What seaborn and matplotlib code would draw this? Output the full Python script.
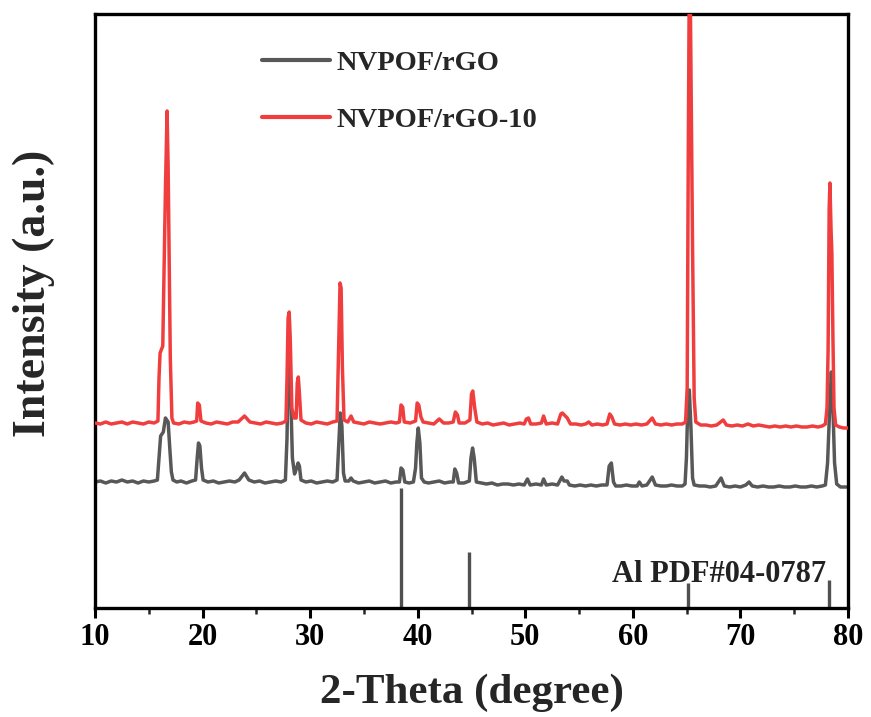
import matplotlib
matplotlib.use("Agg")
import matplotlib.pyplot as plt
import seaborn as sns
import pandas as pd

# ---------------- data ----------------
theta_rgo = [10.0, 10.5, 11.0, 11.5, 12.0, 12.5, 13.0, 13.5, 14.0, 14.5, 15.0, 15.5,
             15.8, 15.95, 16.1, 16.35, 16.55, 16.8, 16.95, 17.1, 17.25,
             17.6, 18.0, 18.5, 19.0,
             19.35, 19.5, 19.62, 19.75, 19.9, 20.05,
             20.5, 21.0, 21.5, 22.0, 22.5, 23.0, 23.4, 23.9, 24.3, 24.8, 25.3, 25.8, 26.3, 26.8, 27.3,
             27.7, 27.85, 27.95, 28.05, 28.2, 28.35, 28.55, 28.75, 28.88, 29.0, 29.15,
             29.6, 30.1, 30.6, 31.1, 31.6, 32.1,
             32.5, 32.65, 32.8, 32.95, 33.1, 33.25,
             33.6, 33.8, 34.0, 34.5, 35.0, 35.5, 36.0, 36.5, 37.0, 37.5, 38.0,
             38.3, 38.45, 38.62, 38.8,
             39.2, 39.6, 39.8, 39.92, 40.05, 40.2, 40.35, 40.6,
             41.0, 41.5, 42.0, 42.5, 43.0,
             43.3, 43.45, 43.62, 43.8,
             44.3, 44.8, 44.95, 45.1, 45.25, 45.45,
             45.9, 46.4, 46.9, 47.4, 47.9, 48.4, 48.9, 49.4, 49.9, 50.2, 50.45, 51.0, 51.5, 51.7, 51.95,
             52.5, 53.0, 53.4, 53.6, 53.9, 54.1, 54.6, 55.1, 55.6, 56.1, 56.6, 57.1,
             57.6, 57.8, 58.0, 58.2, 58.4,
             58.9, 59.4, 59.9, 60.4, 60.6, 60.85, 61.3, 61.8, 62.1, 62.6, 63.1, 63.6, 64.1, 64.6,
             64.85, 64.98, 65.1, 65.25, 65.4, 65.55, 65.7,
             66.2, 66.7, 67.2, 67.7, 68.2, 68.5, 69.0, 69.5, 70.0, 70.5, 70.8, 71.1, 71.6, 72.1, 72.6,
             73.1, 73.6, 74.1, 74.6, 75.1, 75.6, 76.1, 76.6, 77.1, 77.6,
             77.9, 78.1, 78.3, 78.45, 78.6, 78.75, 78.95,
             79.3, 79.7, 80.0]
intensity_rgo = [126, 127, 125, 127, 126, 128, 126, 127, 125, 127, 126, 127,
                 128, 150, 172, 176, 190, 186, 160, 136, 128,
                 126, 127, 125, 127,
                 128, 150, 165, 162, 140, 128,
                 126, 127, 125, 126, 127, 126, 128, 135, 128, 126, 127, 125, 126, 127, 126,
                 128, 170, 240, 256, 210, 150, 134, 140, 145, 142, 128,
                 126, 127, 125, 126, 127, 126,
                 128, 162, 195, 182, 135, 127,
                 127, 130, 127, 125, 126, 127, 125, 126, 127, 125, 126,
                 126, 140, 138, 126,
                 125, 126, 140, 165, 180, 165, 130, 126,
                 125, 126, 127, 125, 126,
                 126, 139, 135, 125,
                 125, 127, 150, 160, 150, 126,
                 125, 124, 125, 123, 124, 124, 123, 124, 123, 129, 123, 124, 123, 129, 123,
                 124, 123, 131, 127, 127, 123, 122, 123, 122, 123, 122, 123,
                 123, 142, 145, 126, 122,
                 122, 123, 122, 122, 126, 122, 123, 131, 123, 122, 122, 123, 122, 122,
                 124, 150, 200, 218, 180, 130, 123,
                 122, 122, 121, 122, 130, 122, 121, 122, 121, 123, 126, 122, 121, 122, 121,
                 121, 122, 121, 121, 122, 121, 121, 122, 121, 122,
                 123, 145, 200, 236, 200, 145, 124,
                 121, 121, 121]

theta_rgo10 = [10.0, 10.5, 11.0, 11.5, 12.0, 12.5, 13.0, 13.5, 14.0, 14.5, 15.0, 15.5,
               15.85, 15.95, 16.05, 16.3, 16.55, 16.7, 16.8, 16.9, 17.0, 17.15, 17.3,
               17.8, 18.3, 18.8, 19.2,
               19.45, 19.55, 19.7, 19.85,
               20.3, 20.8, 21.3, 21.8, 22.3, 22.8, 23.3, 23.9, 24.4, 24.9, 25.4, 25.9, 26.4, 26.9, 27.4,
               27.75, 27.85, 27.95, 28.05, 28.15, 28.3, 28.5, 28.7, 28.8, 28.9, 29.0, 29.15,
               29.6, 30.1, 30.6, 31.1, 31.6, 32.1,
               32.5, 32.65, 32.78, 32.88, 33.0, 33.15,
               33.5, 33.8, 34.05, 34.5, 35.0, 35.5, 36.0, 36.5, 37.0, 37.5, 38.0,
               38.3, 38.45, 38.6, 38.75,
               39.3, 39.8, 39.95, 40.1, 40.3, 40.5,
               41.0, 41.5, 42.0, 42.4, 42.9,
               43.3, 43.5, 43.7, 43.85,
               44.4, 44.85, 45.0, 45.12, 45.3, 45.5,
               46.0, 46.5, 47.0, 47.5, 48.0, 48.5, 49.0, 49.5, 49.9,
               50.1, 50.3, 50.5, 51.0, 51.5, 51.7, 51.95, 52.5, 53.0, 53.3, 53.45, 53.9, 54.2, 54.7,
               55.2, 55.6, 55.9, 56.2, 56.7, 57.2, 57.6,
               57.85, 58.05, 58.3, 58.8, 59.3, 59.8, 60.3, 60.8, 61.3, 61.8, 62.1, 62.6, 63.1, 63.6,
               64.1, 64.6,
               64.9, 65.05, 65.15, 65.25, 65.35, 65.45, 65.55, 65.7, 65.85,
               66.3, 66.8, 67.3, 67.8, 68.4, 68.7, 69.2, 69.7, 70.2, 70.7, 71.2, 71.7, 72.2, 72.7,
               73.2, 73.7, 74.2, 74.7, 75.2, 75.7, 76.2, 76.7, 77.2, 77.6,
               77.9, 78.05, 78.15, 78.25, 78.32, 78.42, 78.5, 78.6, 78.7, 78.85,
               79.2, 79.6, 80.0]
intensity_rgo10 = [185, 184, 186, 184, 185, 186, 184, 186, 185, 184, 186, 185,
                   187, 230, 255, 262, 420, 497, 440, 341, 250, 190, 185,
                   184, 186, 185, 186,
                   187, 205, 203, 187,
                   185, 184, 186, 185, 184, 186, 186, 192, 186, 185, 184, 186, 185, 184, 185,
                   187, 230, 290, 296, 270, 200, 190, 190, 225, 231, 215, 188,
                   185, 184, 186, 185, 184, 186,
                   187, 260, 325, 320, 240, 188,
                   186, 192, 186, 185, 184, 186, 185, 184, 185, 186, 185,
                   186, 203, 201, 186,
                   185, 187, 205, 203, 191, 186,
                   185, 184, 189, 185, 185,
                   186, 196, 193, 185,
                   185, 188, 214, 217, 200, 186,
                   184, 185, 183, 184, 185, 183, 184, 185, 184,
                   189, 190, 184, 184, 185, 192, 184, 185, 184, 194, 195, 190, 184, 184,
                   183, 184, 186, 183, 184, 183, 184,
                   194, 191, 184, 183, 184, 183, 184, 183, 184, 190, 184, 183, 184, 183,
                   184, 184,
                   186, 220, 450, 640, 600, 480, 361, 210, 186,
                   183, 183, 182, 183, 188, 183, 182, 183, 182, 184, 182, 183, 182, 181,
                   182, 181, 182, 181, 182, 181, 181, 182, 181, 182,
                   184, 200, 258, 400, 425, 380, 355, 270, 200, 183,
                   181, 180, 180]

al_ref_theta = [38.47, 44.74, 65.13, 78.23]
al_ref_intensity = [120, 56, 25, 28]

series_names = ["NVPOF/rGO", "NVPOF/rGO-10"]
series_colors = ["#585858", "#F03E3E"]
x_ticks = [10, 20, 30, 40, 50, 60, 70, 80]

# ---------------- figure ----------------
sns.set_theme(style="ticks")
plt.rcParams["font.family"] = ["Liberation Serif", "DejaVu Serif"]
plt.rcParams["font.weight"] = "bold"

fig = plt.figure(figsize=(8.71, 7.17), dpi=100)
ax = fig.add_axes([95 / 871, 1 - 608 / 717, (848 - 95) / 871, (608 - 14) / 717])

df1 = pd.DataFrame({"theta": theta_rgo, "intensity": intensity_rgo})
df2 = pd.DataFrame({"theta": theta_rgo10, "intensity": intensity_rgo10})

sns.lineplot(data=df1, x="theta", y="intensity", ax=ax, color=series_colors[0],
             linewidth=2.5, estimator=None, label=series_names[0], zorder=2)
sns.lineplot(data=df2, x="theta", y="intensity", ax=ax, color=series_colors[1],
             linewidth=2.5, estimator=None, label=series_names[1], zorder=3)

ax.vlines(al_ref_theta, 0, al_ref_intensity, color="#505050", linewidth=2.4, zorder=2)
ax.text(58.1, 33, "Al PDF#04-0787", fontsize=22, fontweight="bold", color="#222222",
        ha="left", va="center")

ax.set_xlim(10, 80)
ax.set_ylim(0, 594)
ax.set_xticks(x_ticks)
ax.set_xticks([15, 25, 35, 45, 55, 65, 75], minor=True)
ax.set_yticks([])
ax.tick_params(axis="x", which="major", direction="out", length=7, width=2.2,
               labelsize=22, pad=4, colors="black")
ax.tick_params(axis="x", which="minor", direction="out", length=4, width=1.8)
for lab in ax.get_xticklabels():
    lab.set_fontweight("bold")
for sp in ax.spines.values():
    sp.set_visible(True)
    sp.set_linewidth(2.4)
    sp.set_color("black")

ax.set_xlabel("2-Theta (degree)", fontsize=31, fontweight="bold", labelpad=15)
ax.set_ylabel("Intensity (a.u.)", fontsize=33, fontweight="bold")
ax.yaxis.set_label_coords(-0.053, 0.529)

leg = ax.legend(loc="upper left", bbox_to_anchor=(0.222, 0.94), frameon=False,
                handlelength=2.4, handletextpad=0.2, labelspacing=1.1,
                borderpad=0, borderaxespad=0, prop={"size": 20.5, "weight": "bold"})
for line in leg.get_lines():
    line.set_linewidth(3)

fig.savefig("out.png", dpi=100)
